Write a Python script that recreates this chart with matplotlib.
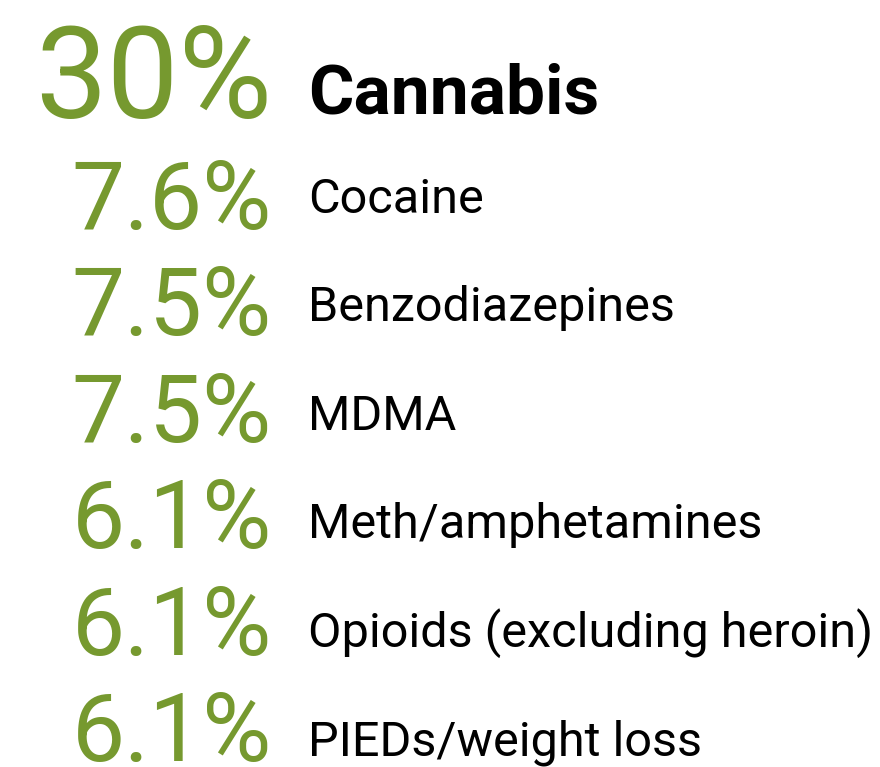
import matplotlib
matplotlib.use("Agg")
import matplotlib.pyplot as plt

percent_labels = ["30%", "7.6%", "7.5%", "7.5%", "6.1%", "6.1%", "6.1%"]
drugs = ["Cannabis", "Cocaine", "Benzodiazepines", "MDMA",
         "Meth/amphetamines", "Opioids (excluding heroin)", "PIEDs/weight loss"]

GREEN = "#76992F"
FONT = ["Roboto", "DejaVu Sans"]

fig = plt.figure(figsize=(8.8, 7.67), dpi=100)
ax = fig.add_axes([0, 0, 1, 1])
ax.set_xlim(0, 880)
ax.set_ylim(767, 0)
ax.axis("off")

NUM_RIGHT = 272
LABEL_LEFT = 308

for i, (pct, drug) in enumerate(zip(percent_labels, drugs)):
    if i == 0:
        ax.text(NUM_RIGHT, 118, pct, ha="right", va="baseline", color=GREEN,
                fontsize=92, family=FONT, fontweight="normal")
        ax.text(LABEL_LEFT, 113, drug, ha="left", va="baseline", color="black",
                fontsize=50, family=FONT, fontweight="bold")
    else:
        nb = 229 + 106.4 * (i - 1)
        lb = 213 + 108.4 * (i - 1)
        ax.text(NUM_RIGHT, nb, pct, ha="right", va="baseline", color=GREEN,
                fontsize=68, family=FONT, fontweight="normal")
        ax.text(LABEL_LEFT, lb, drug, ha="left", va="baseline", color="black",
                fontsize=35, family=FONT)

fig.savefig("out.png", dpi=100, facecolor="white")
